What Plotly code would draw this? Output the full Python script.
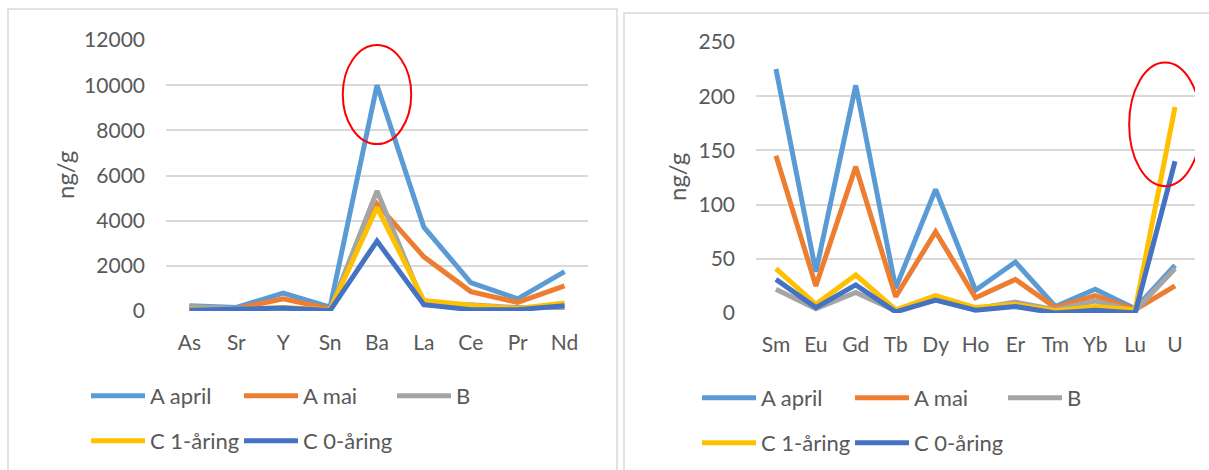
import plotly.graph_objects as go

# ---------------- data ----------------
cats_left = ["As", "Sr", "Y", "Sn", "Ba", "La", "Ce", "Pr", "Nd"]
a_april_left = [230, 160, 790, 175, 10000, 3710, 1260, 540, 1740]
a_mai_left = [130, 110, 540, 90, 4740, 2400, 860, 380, 1110]
b_left = [200, 100, 110, 50, 5320, 280, 280, 150, 150]
c1_left = [60, 60, 160, 40, 4590, 465, 250, 110, 350]
c0_left = [30, 60, 130, 20, 3100, 280, 60, 60, 230]

cats_right = ["Sm", "Eu", "Gd", "Tb", "Dy", "Ho", "Er", "Tm", "Yb", "Lu", "U"]
a_april_right = [225, 38, 210, 23, 114, 21, 47, 6, 22, 4, 44]
a_mai_right = [145, 25, 135, 15, 75, 14, 31, 5, 16, 3, 25]
b_right = [22, 4, 19, 2, 12, 4, 10, 3, 11, 2, 41]
c1_right = [41, 8, 35, 3, 16, 5, 8, 2, 6, 3, 190]
c0_right = [31, 5, 26, 1, 12, 2.5, 6, 0, 2.5, 0, 140]

series_names = ["A april", "A mai", "B", "C 1-åring", "C 0-åring"]
colors = ["#5B9BD5", "#ED7D31", "#A5A5A5", "#FFC000", "#4472C4"]

left_series = [a_april_left, a_mai_left, b_left, c1_left, c0_left]
right_series = [a_april_right, a_mai_right, b_right, c1_right, c0_right]

W, H = 1209, 470
FONT = "Lato"
TXT = "#595959"
GRID = "#D9D9D9"

fig = go.Figure()

# legend assignment: first three items row 1, last two row 2
left_leg = ["legend", "legend", "legend", "legend2", "legend2"]
right_leg = ["legend3", "legend3", "legend3", "legend4", "legend4"]

for name, col, vals, lg in zip(series_names, colors, left_series, left_leg):
    fig.add_trace(go.Scatter(x=cats_left, y=vals, name=name, mode="lines",
                             line=dict(color=col, width=5), cliponaxis=False,
                             xaxis="x", yaxis="y", legend=lg))
for name, col, vals, lg in zip(series_names, colors, right_series, right_leg):
    fig.add_trace(go.Scatter(x=cats_right, y=vals, name=name, mode="lines",
                             line=dict(color=col, width=5), cliponaxis=False,
                             xaxis="x2", yaxis="y2", legend=lg))

def px(x):
    return x / W

def py(y):
    return 1 - y / H

axis_font = dict(family=FONT, size=21, color=TXT)
leg_font = dict(family=FONT, size=22, color=TXT)

leg_common = dict(orientation="h", font=leg_font, bgcolor="rgba(0,0,0,0)",
                  entrywidth=84, entrywidthmode="pixels", xanchor="left",
                  yanchor="middle", itemwidth=54, traceorder="normal")

fig.update_layout(
    width=W, height=H,
    margin=dict(l=0, r=0, t=0, b=0, autoexpand=False),
    paper_bgcolor="white", plot_bgcolor="white",
    font=dict(family=FONT, color=TXT),
    xaxis=dict(domain=[px(166), px(588)], anchor="y", showgrid=False,
               showline=False, zeroline=False, tickfont=axis_font,
               ticks="", ticklabelstandoff=17, range=[-0.5, 8.5],
               automargin=False),
    yaxis=dict(domain=[py(311), py(40)], anchor="x", range=[0, 12000],
               dtick=2000, tickformat="d", showgrid=True, gridcolor=GRID,
               gridwidth=1.5, zeroline=False, showline=False,
               tickfont=axis_font, ticks="", ticklabelstandoff=20,
               automargin=False),
    xaxis2=dict(domain=[px(756), px(1195)], anchor="y2", showgrid=False,
                showline=False, zeroline=False, tickfont=axis_font,
                ticks="", ticklabelstandoff=17, range=[-0.5, 10.5],
                automargin=False),
    yaxis2=dict(domain=[py(313), py(42)], anchor="x2", range=[0, 250],
                dtick=50, tickformat="d", showgrid=True, gridcolor=GRID,
                gridwidth=1.5, zeroline=False, showline=False,
                tickfont=axis_font, ticks="", ticklabelstandoff=20,
                automargin=False),
    legend=dict(x=px(86), y=py(396), **leg_common),
    legend2=dict(x=px(86), y=py(441), **leg_common),
    legend3=dict(x=px(697), y=py(398), **leg_common),
    legend4=dict(x=px(697), y=py(443), **leg_common),
    showlegend=True,
)

# axis titles
title_font = dict(family=FONT, size=24, color=TXT)
fig.add_annotation(text="ng/g", x=px(64), y=py(175), xref="paper", yref="paper",
                   xanchor="center", yanchor="middle",
                   textangle=-90, showarrow=False, font=title_font)
fig.add_annotation(text="ng/g", x=px(677), y=py(177), xref="paper", yref="paper",
                   xanchor="center", yanchor="middle",
                   textangle=-90, showarrow=False, font=title_font)

# chart frames
fig.add_shape(type="rect", xref="paper", yref="paper", x0=px(8), x1=px(617),
              y0=-0.05, y1=py(9), line=dict(color="#D9D9D9", width=1.5),
              layer="below")
fig.add_shape(type="rect", xref="paper", yref="paper", x0=px(624), x1=1.05,
              y0=-0.05, y1=py(13), line=dict(color="#D9D9D9", width=1.5),
              layer="below")

# red highlight ellipses
fig.add_shape(type="circle", xref="x", yref="y", x0=3.27, x1=4.73,
              y0=7390, y1=11780, line=dict(color="#FF0000", width=2))
fig.add_shape(type="circle", xref="x2", yref="y2", x0=8.85, x1=10.65,
              y0=117, y1=231, line=dict(color="#FF0000", width=2))

fig.write_html("out.html",
               config={"displayModeBar": False},
               post_script="document.body.style.margin='0';"
                           "document.body.style.overflow='hidden';")
